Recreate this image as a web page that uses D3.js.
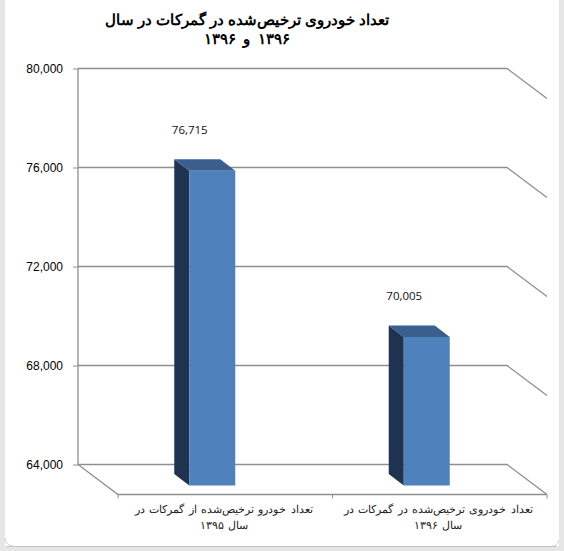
<!DOCTYPE html>
<html><head><meta charset="utf-8">
<script src="https://cdn.jsdelivr.net/npm/d3@7"></script>
<style>html,body{margin:0;padding:0;background:#fff}svg{display:block}</style>
</head><body><svg id="c" width="564" height="551"></svg>
<script>
const categories = [
  ["تعداد خودرو ترخیص‌شده از گمرکات در", "سال ۱۳۹۵"],
  ["تعداد خودروی ترخیص‌شده در گمرکات در", "سال ۱۳۹۶"]
];
const values = [76715, 70005];
const valueLabels = ["76,715", "70,005"];
const yTicks = [64000, 68000, 72000, 76000, 80000];
const titleLines = ["تعداد خودروی ترخیص‌شده در گمرکات در سال", "۱۳۹۶ و ۱۳۹۶"];

const W = 564, H = 551;
const wall = {l: 78, r: 507, t: 68.5, b: 464.5};
const floor = {dx: 40, dy: 30};
const barW = 46, backD = {dx: 12, dy: 9.5}, frontD = {dx: 27, dy: 21};

const svg = d3.select("#c");
const x = d3.scaleBand().domain(d3.range(categories.length)).range([wall.l, wall.r]);
const y = d3.scaleLinear().domain([64000, 80000]).range([wall.b, wall.t]);
const line = d3.line();
const grid = "#8e8e8e";

// window chrome
svg.append("rect").attr("x",559).attr("y",0).attr("width",5).attr("height",H).attr("fill","#e6e6e6");
svg.append("rect").attr("x",0).attr("y",0).attr("width",5).attr("height",H).attr("fill","#e6e6e6");
svg.append("rect").attr("x",0).attr("y",546).attr("width",W).attr("height",5).attr("fill","#e6e6e6");
svg.append("path").attr("d",line([[6,546.5],[556,546.5]])).attr("fill","none").attr("stroke","#c4c4c4");
svg.append("path").attr("d","M5,538Q6,546 13,546").attr("fill","none").attr("stroke","#d0d0d0");
svg.append("path").attr("d","M559,540Q558,546 552,546").attr("fill","none").attr("stroke","#d8d8d8");

// walls
yTicks.forEach(t => {
  const yy = y(t);
  svg.append("path").attr("fill","none").attr("stroke",grid).attr("stroke-width",1.3)
    .attr("d", line([[wall.l,yy],[wall.r,yy],[wall.r+floor.dx,yy+floor.dy]]));
});
svg.append("path").attr("fill","none").attr("stroke",grid).attr("stroke-width",1.3)
  .attr("d", line([[wall.l,wall.t],[wall.l,wall.b],[wall.l+floor.dx,wall.b+floor.dy],[wall.r+floor.dx,wall.b+floor.dy]]));

// y axis
const yAxis = svg.append("g").attr("transform",`translate(${wall.l},0)`)
  .call(d3.axisLeft(y).tickValues(yTicks).tickFormat(d3.format(",")).tickSize(5).tickPadding(10));
yAxis.select(".domain").remove();
yAxis.selectAll("line").attr("stroke",grid);
yAxis.selectAll("text").attr("font-family","Liberation Sans, Arial").attr("font-size",12).attr("fill","#000");

// x axis ticks
[0,1,2].forEach(i => {
  const tx = wall.l + floor.dx + i*x.bandwidth();
  svg.append("line").attr("x1",tx).attr("x2",tx).attr("y1",wall.b+floor.dy).attr("y2",wall.b+floor.dy+4).attr("stroke",grid);
});

// bars
values.forEach((v,i) => {
  const cx = x(i) + x.bandwidth()/2, x0 = cx - barW/2, x1 = cx + barW/2, yv = y(v), yb = y(64000);
  const bl = x0 + backD.dx, tb = yv + backD.dy, fl = x0 + frontD.dx, ft = yv + frontD.dy;
  const fr = x1 + frontD.dx, br = x1 + backD.dx, fb = yb + frontD.dy, bb = yb + backD.dy;
  const g = svg.append("g");
  g.append("path").attr("fill","#1f3350").attr("d", line([[bl,tb],[fl,ft],[fl,fb],[bl,bb]])+"Z");
  g.append("path").attr("fill","#3a5f8e").attr("d", line([[bl,tb],[br,tb],[fr,ft],[fl,ft]])+"Z");
  g.append("path").attr("fill","#4f81bd").attr("d", line([[fl,ft],[fr,ft],[fr,fb],[fl,fb]])+"Z");
  svg.append("text").attr("x",cx+4.5).attr("y",yv-16).attr("text-anchor","middle")
    .attr("font-family","Open Sans, Liberation Sans").attr("font-size",11.5).attr("fill","#111").text(valueLabels[i]);
  categories[i].forEach((s,k) => {
    svg.append("text").attr("x",cx+38.5).attr("y",513+k*15.5).attr("text-anchor","middle").attr("direction","rtl")
      .attr("font-family","Liberation Sans, Arial").attr("font-size",10.7).attr("word-spacing",1.5).attr("fill","#222").text(s);
  });
});

// title
titleLines.forEach((s,k) => {
  const t = svg.append("text").attr("x",247).attr("y",25+k*19).attr("text-anchor","middle").attr("direction","rtl")
    .attr("font-family","Liberation Sans, Arial").attr("font-weight","bold").attr("font-size",14.5).attr("fill","#000").text(s);
  if (k === 1) t.attr("letter-spacing",4).attr("word-spacing",3);
});
</script></body></html>
